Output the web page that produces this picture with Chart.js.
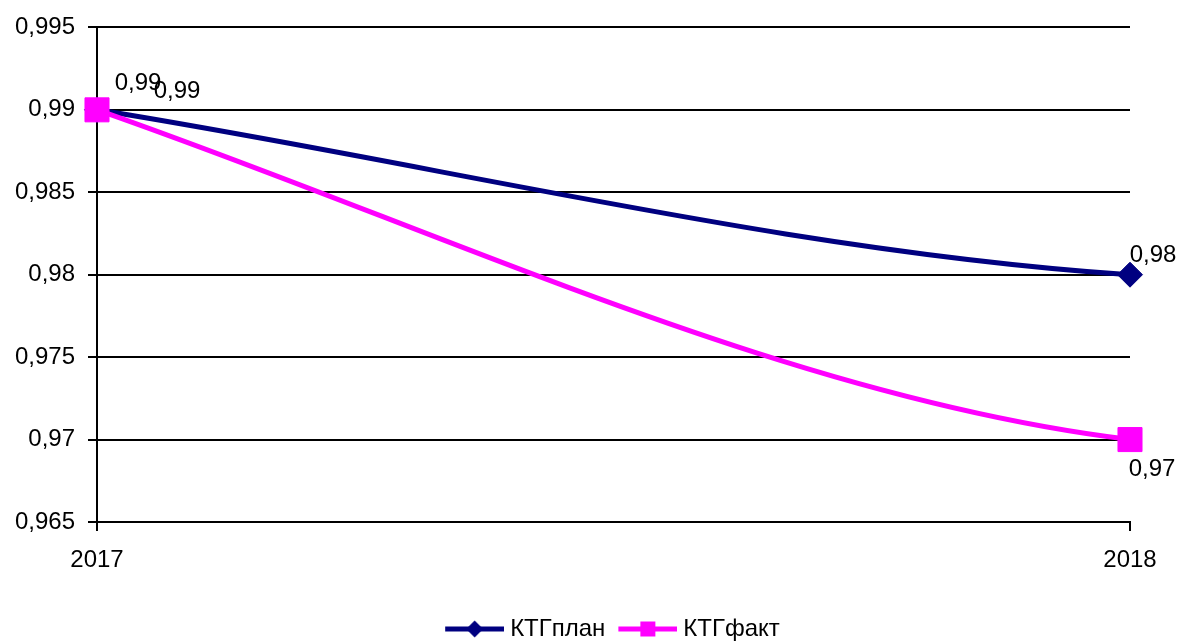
<!DOCTYPE html>
<html>
<head>
<meta charset="utf-8">
<script src="https://cdn.jsdelivr.net/npm/chart.js@4.4.1/dist/chart.umd.min.js"></script>
<style>
  html, body { margin: 0; padding: 0; background: #fff; }
  #wrap { width: 1179px; height: 641px; }
</style>
</head>
<body>
<div id="wrap"><canvas id="c" width="1179" height="641"></canvas></div>
<script>
// ---- data ----
const years = ['2017', '2018'];
const ktgPlan = [0.99, 0.98];
const ktgFact = [0.99, 0.97];
const seriesNames = ['КТГплан', 'КТГфакт'];
const yTickValues = [0.965, 0.97, 0.975, 0.98, 0.985, 0.99, 0.995];

// ---- styling ----
const FONT = "'Liberation Sans', Arial, Helvetica, sans-serif";
const PLAN_COLOR = '#000080';
const FACT_COLOR = '#FF00FF';
// value label offsets (px) from each point, per series
const valueLabelOffsets = [
  [[41, -26], [23, -19]],
  [[80, -18], [22, 30]]
];

const fmt = v => String(Number(Number(v).toFixed(3))).replace('.', ',');

Chart.defaults.font.family = FONT;
Chart.defaults.font.size = 24;
Chart.defaults.color = '#000';

// smoothed curve: start/end tangent as a multiple of the chord slope
const curvePlugin = {
  id: 'bentLines',
  beforeDatasetDraw(chart, args) {
    const ds = chart.data.datasets[args.index];
    const bend = ds.bend;
    const meta = args.meta;
    if (!bend || !meta.dataset) return;
    meta.dataset.updateControlPoints(chart.chartArea, meta.indexAxis);
    const pts = meta.data;
    for (let i = 0; i < pts.length - 1; i++) {
      const a = pts[i], b = pts[i + 1];
      const dx = b.x - a.x;
      const slope = (b.y - a.y) / dx;
      a.cp2x = a.x + dx / 3;
      a.cp2y = a.y + bend[0] * slope * dx / 3;
      b.cp1x = b.x - dx / 3;
      b.cp1y = b.y - bend[1] * slope * dx / 3;
    }
  }
};

// value labels next to each point
const valueLabels = {
  id: 'valueLabels',
  afterDatasetsDraw(chart) {
    const ctx = chart.ctx;
    ctx.save();
    ctx.font = '24px ' + FONT;
    ctx.fillStyle = '#000';
    ctx.textAlign = 'center';
    ctx.textBaseline = 'middle';
    chart.data.datasets.forEach((ds, di) => {
      const meta = chart.getDatasetMeta(di);
      meta.data.forEach((pt, i) => {
        const off = valueLabelOffsets[di][i];
        ctx.fillText(fmt(ds.data[i]), pt.x + off[0], pt.y + off[1]);
      });
    });
    ctx.restore();
  }
};

// legend swatch: line with marker in the middle
const SWATCH_BOX = 51;
function swatch(color, style) {
  const c = document.createElement('canvas');
  c.width = SWATCH_BOX + 12; c.height = 26;
  const g = c.getContext('2d');
  const x0 = 4, x1 = c.width, cy = 13, cx = (x0 + x1) / 2;
  g.strokeStyle = color;
  g.fillStyle = color;
  g.lineWidth = 5;
  g.beginPath(); g.moveTo(x0, cy); g.lineTo(x1, cy); g.stroke();
  g.beginPath();
  if (style === 'rectRot') {
    const r = 8.5;
    g.moveTo(cx, cy - r); g.lineTo(cx + r, cy); g.lineTo(cx, cy + r); g.lineTo(cx - r, cy);
    g.closePath();
  } else {
    const h = 7.5;
    g.rect(cx - h, cy - h, 2 * h, 2 * h);
  }
  g.fill();
  return c;
}

const ctx = document.getElementById('c').getContext('2d');
new Chart(ctx, {
  type: 'line',
  data: {
    labels: years,
    datasets: [
      {
        label: seriesNames[0],
        data: ktgPlan,
        borderColor: PLAN_COLOR,
        backgroundColor: PLAN_COLOR,
        borderWidth: 5,
        tension: 0.3,
        bend: [1.0, 0.42],
        pointStyle: 'rectRot',
        pointRadius: 12.5,
        pointBorderWidth: 1,
        pointBorderColor: PLAN_COLOR,
        pointBackgroundColor: PLAN_COLOR,
        clip: false,
        order: 1
      },
      {
        label: seriesNames[1],
        data: ktgFact,
        borderColor: FACT_COLOR,
        backgroundColor: FACT_COLOR,
        borderWidth: 5,
        tension: 0.3,
        bend: [1.09, 0.38],
        pointStyle: 'rect',
        pointRadius: 17,
        pointBorderWidth: 1,
        pointBorderColor: FACT_COLOR,
        pointBackgroundColor: FACT_COLOR,
        clip: false,
        order: 0
      }
    ]
  },
  options: {
    responsive: false,
    animation: false,
    events: [],
    layout: { padding: { left: 0, right: 49, top: 24, bottom: -10 } },
    plugins: {
      tooltip: { enabled: false },
      legend: {
        display: true,
        position: 'bottom',
        align: 'center',
        fullSize: false,
        labels: {
          usePointStyle: true,
          pointStyleWidth: SWATCH_BOX,
          padding: 15,
          font: { size: 24, family: FONT },
          color: '#000',
          generateLabels(chart) {
            return chart.data.datasets.map((ds, i) => ({
              text: ds.label,
              pointStyle: swatch(ds.borderColor, ds.pointStyle),
              fillStyle: ds.borderColor,
              strokeStyle: ds.borderColor,
              lineWidth: 0,
              fontColor: '#000',
              hidden: false,
              datasetIndex: i
            }));
          }
        }
      }
    },
    scales: {
      x: {
        offset: false,
        grid: {
          display: true,
          drawOnChartArea: false,
          drawTicks: true,
          tickLength: 9,
          color: '#000',
          lineWidth: 2
        },
        border: { display: true, color: '#000', width: 2 },
        ticks: { padding: 15, maxRotation: 0, autoSkip: false, color: '#000', font: { size: 24 } },
        afterFit(s) { s.height = 80; }
      },
      y: {
        min: yTickValues[0],
        max: yTickValues[yTickValues.length - 1],
        afterBuildTicks(s) { s.ticks = yTickValues.map(v => ({ value: v })); },
        ticks: { padding: 13, color: '#000', font: { size: 24 }, callback: v => fmt(v) },
        grid: { color: '#000', lineWidth: 2, tickLength: 9, drawTicks: true },
        border: { display: true, color: '#000', width: 2 },
        afterFit(s) { s.width = 97; }
      }
    }
  },
  plugins: [curvePlugin, valueLabels]
});
</script>
</body>
</html>
